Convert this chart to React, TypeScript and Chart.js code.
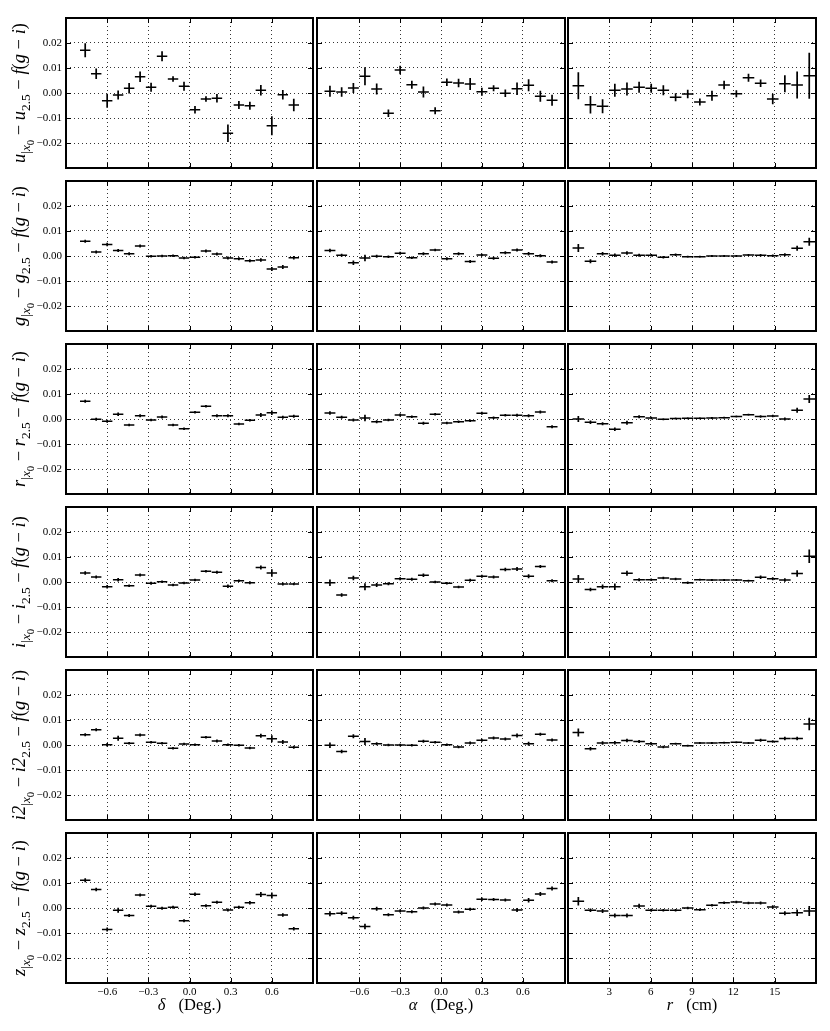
import React, { useEffect, useRef } from "react";
import { Chart, registerables } from "chart.js";

Chart.register(...registerables);

const FONT = "'Liberation Serif', 'DejaVu Serif', serif";

// ---- bin centres ----
const deltaBins = [-0.76, -0.68, -0.6, -0.52, -0.44, -0.36, -0.28, -0.2, -0.12, -0.04, 0.04, 0.12, 0.2, 0.28, 0.36, 0.44, 0.52, 0.6, 0.68, 0.76];
const alphaBins = [-0.815, -0.729, -0.643, -0.558, -0.472, -0.386, -0.3, -0.214, -0.129, -0.043, 0.043, 0.129, 0.214, 0.3, 0.386, 0.472, 0.558, 0.643, 0.729, 0.815];
const rBins = [0.75, 1.63, 2.51, 3.4, 4.28, 5.16, 6.04, 6.92, 7.81, 8.69, 9.57, 10.45, 11.33, 12.22, 13.1, 13.98, 14.86, 15.74, 16.63, 17.51];

// ---- tick labels ----
const yTickValues = [-0.02, -0.01, 0, 0.01, 0.02];
const degTickValues = [-0.6, -0.3, 0, 0.3, 0.6];
const rTickValues = [3, 6, 9, 12, 15];

// ---- u ----
const uDelta = [0.0171, 0.0077, -0.0031, -0.0008, 0.0019, 0.0065, 0.0023, 0.0147, 0.0056, 0.0027, -0.0067, -0.0024, -0.0021, -0.0161, -0.0048, -0.0051, 0.0011, -0.0131, -0.0007, -0.0048];
const uDeltaErr = [0.0028, 0.0021, 0.0028, 0.0018, 0.0021, 0.0021, 0.0018, 0.002, 0.0011, 0.0018, 0.0015, 0.0011, 0.0017, 0.0035, 0.0016, 0.0016, 0.0021, 0.0038, 0.0019, 0.0025];
const uAlpha = [0.0007, 0.0004, 0.002, 0.0067, 0.0016, -0.0081, 0.0092, 0.0033, 0.0004, -0.0071, 0.0043, 0.004, 0.0036, 0.0005, 0.0019, -0.0001, 0.0017, 0.0031, -0.0013, -0.0029];
const uAlphaErr = [0.0022, 0.0019, 0.002, 0.0036, 0.0022, 0.0015, 0.0017, 0.0016, 0.0022, 0.0014, 0.0015, 0.0017, 0.0024, 0.0016, 0.0012, 0.0015, 0.0025, 0.0024, 0.0022, 0.0022];
const uR = [0.0029, -0.0047, -0.0053, 0.0011, 0.0016, 0.0023, 0.0019, 0.0011, -0.0017, -0.0004, -0.0036, -0.0011, 0.0032, -0.0003, 0.0061, 0.0039, -0.0024, 0.0037, 0.0032, 0.0069];
const uRErr = [0.0054, 0.0035, 0.0028, 0.0026, 0.0026, 0.0022, 0.0018, 0.002, 0.0016, 0.0017, 0.0014, 0.002, 0.0017, 0.0014, 0.0016, 0.0015, 0.0021, 0.0034, 0.0054, 0.0092];

// ---- g ----
const gDelta = [0.0059, 0.0016, 0.0046, 0.0022, 0.0009, 0.004, -0.0001, 0.0, 0.0001, -0.0008, -0.0005, 0.002, 0.0008, -0.0008, -0.0011, -0.0019, -0.0016, -0.0052, -0.0044, -0.0007];
const gDeltaErr = [0.0006, 0.0006, 0.0007, 0.0006, 0.0006, 0.0006, 0.0005, 0.0005, 0.0005, 0.0005, 0.0005, 0.0006, 0.0006, 0.0006, 0.0006, 0.0006, 0.0007, 0.0008, 0.0008, 0.0007];
const gAlpha = [0.0022, 0.0003, -0.0027, -0.0008, -0.0001, -0.0003, 0.0011, -0.0007, 0.0009, 0.0024, -0.0011, 0.0009, -0.0022, 0.0004, -0.0009, 0.0013, 0.0024, 0.0009, 0.0001, -0.0024];
const gAlphaErr = [0.0007, 0.0006, 0.0009, 0.0013, 0.0006, 0.0005, 0.0006, 0.0005, 0.0006, 0.0005, 0.0006, 0.0006, 0.0006, 0.0005, 0.0006, 0.0006, 0.0006, 0.0007, 0.0006, 0.0006];
const gR = [0.0032, -0.0021, 0.0009, 0.0003, 0.0012, 0.0003, 0.0003, -0.0005, 0.0005, -0.0003, -0.0003, 0.0, 0.0, 0.0, 0.0004, 0.0003, 0.0001, 0.0005, 0.0031, 0.0057];
const gRErr = [0.0016, 0.0008, 0.0007, 0.0007, 0.0007, 0.0006, 0.0005, 0.0005, 0.0005, 0.0004, 0.0004, 0.0004, 0.0004, 0.0004, 0.0004, 0.0005, 0.0005, 0.0006, 0.001, 0.0016];

// ---- r ----
const rDelta = [0.0071, -0.0001, -0.0009, 0.0019, -0.0024, 0.0013, -0.0004, 0.0008, -0.0024, -0.0039, 0.0027, 0.0051, 0.0013, 0.0013, -0.002, -0.0005, 0.0016, 0.0025, 0.0007, 0.0011];
const rDeltaErr = [0.0006, 0.0006, 0.0006, 0.0007, 0.0005, 0.0006, 0.0005, 0.0006, 0.0005, 0.0005, 0.0005, 0.0005, 0.0006, 0.0006, 0.0005, 0.0005, 0.0008, 0.0009, 0.0006, 0.0006];
const rAlpha = [0.0024, 0.0007, -0.0004, 0.0004, -0.0011, -0.0004, 0.0016, 0.0009, -0.0017, 0.0019, -0.0016, -0.0011, -0.0007, 0.0023, 0.0005, 0.0015, 0.0015, 0.0013, 0.0028, -0.0031];
const rAlphaErr = [0.0007, 0.0006, 0.0006, 0.0013, 0.0006, 0.0005, 0.0006, 0.0005, 0.0006, 0.0005, 0.0005, 0.0005, 0.0005, 0.0006, 0.0005, 0.0005, 0.0006, 0.0006, 0.0006, 0.0006];
const rR = [0.0, -0.0013, -0.0019, -0.0041, -0.0015, 0.0009, 0.0004, -0.0001, 0.0002, 0.0003, 0.0003, 0.0004, 0.0005, 0.001, 0.0017, 0.001, 0.0012, 0.0, 0.0035, 0.008];
const rRErr = [0.0012, 0.0007, 0.0006, 0.0007, 0.0008, 0.0006, 0.0005, 0.0004, 0.0004, 0.0004, 0.0004, 0.0004, 0.0004, 0.0004, 0.0004, 0.0005, 0.0005, 0.0006, 0.001, 0.0016];

// ---- i ----
const iDelta = [0.0036, 0.002, -0.0019, 0.0009, -0.0015, 0.0028, -0.0005, 0.0001, -0.0012, -0.0004, 0.0008, 0.0043, 0.0039, -0.0017, 0.0005, -0.0003, 0.0058, 0.0036, -0.0008, -0.0008];
const iDeltaErr = [0.0007, 0.0006, 0.0007, 0.0007, 0.0005, 0.0006, 0.0006, 0.0005, 0.0005, 0.0005, 0.0005, 0.0005, 0.0006, 0.0007, 0.0005, 0.0006, 0.0008, 0.0015, 0.0006, 0.0005];
const iAlpha = [-0.0003, -0.0052, 0.0016, -0.0019, -0.0012, -0.0007, 0.0013, 0.0011, 0.0027, 0.0, -0.0005, -0.002, 0.0007, 0.0023, 0.002, 0.005, 0.0052, 0.0023, 0.0062, 0.0005];
const iAlphaErr = [0.0013, 0.0007, 0.0009, 0.0014, 0.0008, 0.0006, 0.0006, 0.0006, 0.0007, 0.0005, 0.0005, 0.0005, 0.0006, 0.0006, 0.0006, 0.0007, 0.0008, 0.0008, 0.0006, 0.0006];
const iR = [0.0012, -0.003, -0.0019, -0.0019, 0.0035, 0.0009, 0.0009, 0.0016, 0.0012, -0.0003, 0.0009, 0.0008, 0.0008, 0.0008, 0.0005, 0.0019, 0.0013, 0.0008, 0.0034, 0.0103];
const iRErr = [0.0016, 0.0007, 0.0009, 0.0013, 0.001, 0.0006, 0.0005, 0.0005, 0.0005, 0.0005, 0.0004, 0.0004, 0.0004, 0.0004, 0.0004, 0.0007, 0.0006, 0.0007, 0.0013, 0.0027];

// ---- i2 ----
const i2Delta = [0.0041, 0.0061, 0.0001, 0.0027, 0.0007, 0.004, 0.0011, 0.0007, -0.0013, 0.0004, 0.0001, 0.0031, 0.0016, 0.0001, -0.0001, -0.0012, 0.0037, 0.0025, 0.0012, -0.0009];
const i2DeltaErr = [0.0006, 0.0006, 0.0007, 0.001, 0.0005, 0.0006, 0.0005, 0.0005, 0.0005, 0.0005, 0.0005, 0.0005, 0.0006, 0.0005, 0.0005, 0.0005, 0.0008, 0.0014, 0.0008, 0.0006];
const i2Alpha = [-0.0001, -0.0026, 0.0035, 0.0014, 0.0005, 0.0, 0.0, -0.0001, 0.0015, 0.0011, 0.0001, -0.0008, 0.0008, 0.0019, 0.0028, 0.0024, 0.0038, 0.0005, 0.0043, 0.002];
const i2AlphaErr = [0.0011, 0.0007, 0.0008, 0.0014, 0.0006, 0.0005, 0.0005, 0.0005, 0.0006, 0.0005, 0.0005, 0.0005, 0.0006, 0.0006, 0.0006, 0.0006, 0.0008, 0.0008, 0.0006, 0.0006];
const i2R = [0.005, -0.0015, 0.0008, 0.0009, 0.0018, 0.0014, 0.0005, -0.0008, 0.0005, -0.0003, 0.0008, 0.0008, 0.0009, 0.0011, 0.0008, 0.0019, 0.0014, 0.0026, 0.0026, 0.0084];
const i2RErr = [0.0016, 0.0007, 0.0007, 0.0007, 0.0007, 0.0006, 0.0006, 0.0005, 0.0004, 0.0004, 0.0004, 0.0004, 0.0004, 0.0004, 0.0004, 0.0006, 0.0005, 0.0007, 0.0007, 0.0025];

// ---- z ----
const zDelta = [0.0111, 0.0074, -0.0086, -0.0009, -0.003, 0.0052, 0.0007, -0.0001, 0.0003, -0.0051, 0.0055, 0.0009, 0.0023, -0.0008, 0.0003, 0.0021, 0.0054, 0.005, -0.0028, -0.0083];
const zDeltaErr = [0.0008, 0.0007, 0.0008, 0.001, 0.0006, 0.0006, 0.0006, 0.0006, 0.0006, 0.0006, 0.0007, 0.0006, 0.0006, 0.0006, 0.0006, 0.0007, 0.001, 0.0012, 0.0007, 0.0007];
const zAlpha = [-0.0023, -0.0021, -0.0039, -0.0074, -0.0003, -0.0027, -0.0012, -0.0015, 0.0, 0.0016, 0.0012, -0.0016, -0.0005, 0.0035, 0.0034, 0.0032, -0.0008, 0.0031, 0.0056, 0.0078];
const zAlphaErr = [0.001, 0.0008, 0.0008, 0.0011, 0.0008, 0.0006, 0.0006, 0.0006, 0.0006, 0.0006, 0.0006, 0.0006, 0.0006, 0.0007, 0.0006, 0.0006, 0.0008, 0.0009, 0.0008, 0.0008];
const zR = [0.0027, -0.0009, -0.0012, -0.003, -0.003, 0.0008, -0.0009, -0.0009, -0.0009, 0.0, -0.0007, 0.0011, 0.0021, 0.0024, 0.002, 0.002, 0.0004, -0.0021, -0.0019, -0.0012];
const zRErr = [0.0017, 0.0007, 0.0008, 0.0008, 0.0008, 0.0009, 0.0006, 0.0005, 0.0005, 0.0005, 0.0005, 0.0005, 0.0005, 0.0005, 0.0005, 0.0006, 0.0007, 0.0008, 0.0013, 0.002];

const bands = ["u", "g", "r", "i", "i2", "z"];
const rowData = [
  [[uDelta, uDeltaErr], [uAlpha, uAlphaErr], [uR, uRErr]],
  [[gDelta, gDeltaErr], [gAlpha, gAlphaErr], [gR, gRErr]],
  [[rDelta, rDeltaErr], [rAlpha, rAlphaErr], [rR, rRErr]],
  [[iDelta, iDeltaErr], [iAlpha, iAlphaErr], [iR, iRErr]],
  [[i2Delta, i2DeltaErr], [i2Alpha, i2AlphaErr], [i2R, i2RErr]],
  [[zDelta, zDeltaErr], [zAlpha, zAlphaErr], [zR, zRErr]],
];

const columns = [
  { bins: deltaBins, half: 0.038, min: -0.9, max: 0.9, ticks: degTickValues, dec: 1 },
  { bins: alphaBins, half: 0.04, min: -0.91, max: 0.91, ticks: degTickValues, dec: 1 },
  { bins: rBins, half: 0.42, min: 0, max: 18, ticks: rTickValues, dec: 0 },
];

// layout (px)
const COL_LEFT = [66, 317, 568];
const COL_W = [247, 248, 248];
const ROW_TOP = [18, 181, 344, 507, 670, 833];
const PH = 150;

const fmt = (v: number, d: number) => (v < -1e-12 ? "\u2212" + Math.abs(v).toFixed(d) : Math.abs(v).toFixed(d));

const framePlugin = {
  id: "frameTicks",
  afterDraw(chart: any) {
    const { ctx, chartArea: a, scales } = chart;
    ctx.save();
    ctx.strokeStyle = "#000";
    ctx.lineWidth = 1;
    const tl = 5;
    ctx.beginPath();
    scales.x.ticks.forEach((t: any) => {
      const px = Math.round(scales.x.getPixelForValue(t.value)) + 0.5;
      ctx.moveTo(px, a.bottom);
      ctx.lineTo(px, a.bottom - tl);
      ctx.moveTo(px, a.top);
      ctx.lineTo(px, a.top + tl);
    });
    scales.y.ticks.forEach((t: any) => {
      const py = Math.round(scales.y.getPixelForValue(t.value)) + 0.5;
      ctx.moveTo(a.left, py);
      ctx.lineTo(a.left + tl, py);
      ctx.moveTo(a.right, py);
      ctx.lineTo(a.right - tl, py);
    });
    ctx.stroke();
    ctx.lineWidth = 2;
    ctx.strokeRect(a.left, a.top, a.right - a.left, a.bottom - a.top);
    ctx.restore();
  },
};

function Panel({ row, col }: { row: number; col: number }) {
  const ref = useRef<HTMLCanvasElement>(null);
  const c = columns[col];
  const [ys, errs] = rowData[row][col];
  const padT = 3;
  const padR = 3;
  const padL = col === 0 ? 62 : 3;
  const padB = row === 5 ? 22 : 3;
  const w = COL_W[col] + padL + padR;
  const h = PH + padT + padB;

  useEffect(() => {
    const pts: any[] = [];
    for (let k = 0; k < c.bins.length; k++) {
      const x = c.bins[k];
      const y = ys[k];
      const e = errs[k];
      pts.push({ x: x - c.half, y }, { x: x + c.half, y }, { x, y: null });
      pts.push({ x, y: y - e }, { x, y: y + e }, { x, y: null });
    }
    const chart = new Chart(ref.current as HTMLCanvasElement, {
      type: "line",
      data: {
        datasets: [
          {
            data: pts,
            borderColor: "#000",
            borderWidth: 1.7,
            pointRadius: 0,
            spanGaps: false,
            tension: 0,
            fill: false,
          } as any,
        ],
      },
      options: {
        animation: false,
        responsive: false,
        events: [],
        layout: {
          padding: { top: padT, right: padR, left: col === 0 ? 0 : padL, bottom: row === 5 ? 0 : padB },
        },
        plugins: { legend: { display: false }, tooltip: { enabled: false } },
        scales: {
          x: {
            type: "linear",
            min: c.min,
            max: c.max,
            afterBuildTicks: (s: any) => {
              s.ticks = c.ticks.map((v) => ({ value: v }));
            },
            afterFit: (s: any) => {
              s.height = row === 5 ? padB : 0;
              s.paddingLeft = 0;
              s.paddingRight = 0;
              s.paddingTop = 0;
              s.paddingBottom = 0;
            },
            grid: { color: "#000", lineWidth: 0.8, drawTicks: false },
            border: { display: false, dash: [1, 3] },
            ticks: {
              display: row === 5,
              padding: 3,
              color: "#000",
              autoSkip: false,
              maxRotation: 0,
              font: { size: 11, family: FONT },
              callback: (v: any) => fmt(Number(v), c.dec),
            },
          },
          y: {
            type: "linear",
            min: -0.03,
            max: 0.03,
            afterBuildTicks: (s: any) => {
              s.ticks = yTickValues.map((v) => ({ value: v }));
            },
            afterFit: (s: any) => {
              s.width = col === 0 ? padL : 0;
              s.paddingLeft = 0;
              s.paddingRight = 0;
              s.paddingTop = 0;
              s.paddingBottom = 0;
            },
            grid: { color: "#000", lineWidth: 0.8, drawTicks: false },
            border: { display: false, dash: [1, 3] },
            ticks: {
              display: col === 0,
              padding: 4,
              color: "#000",
              autoSkip: false,
              font: { size: 11, family: FONT },
              callback: (v: any) => fmt(Number(v), 2),
            },
          },
        } as any,
      },
      plugins: [framePlugin],
    });
    return () => chart.destroy();
  }, []);

  return (
    <canvas
      ref={ref}
      width={w}
      height={h}
      style={{
        position: "absolute",
        left: COL_LEFT[col] - padL,
        top: ROW_TOP[row] - padT,
        width: w,
        height: h,
      }}
    />
  );
}

function YLabel({ row }: { row: number }) {
  const b = bands[row];
  return (
    <div
      style={{
        position: "absolute",
        left: 23,
        top: ROW_TOP[row] + PH / 2,
        transform: "translate(-50%, -50%) rotate(-90deg)",
        whiteSpace: "nowrap",
        fontFamily: FONT,
        fontSize: 18.5,
        lineHeight: 1,
        color: "#000",
      }}
    >
      <i>{b}</i>
      <sub style={{ fontSize: "0.72em" }}>
        |<i>x</i>
        <sub style={{ fontSize: "0.8em" }}>0</sub>
      </sub>
      {" \u2212 "}
      <i>{b}</i>
      <sub style={{ fontSize: "0.72em" }}>2.5</sub>
      {" \u2212 "}
      <i>f</i>(<i>g</i>
      {" \u2212 "}
      <i>i</i>)
    </div>
  );
}

const xLabels = [
  { sym: "\u03b4", unit: "(Deg.)" },
  { sym: "\u03b1", unit: "(Deg.)" },
  { sym: "r", unit: "(cm)" },
];

export default function App() {
  const panels: any[] = [];
  for (let r = 0; r < 6; r++) for (let c = 0; c < 3; c++) panels.push(<Panel key={r + "-" + c} row={r} col={c} />);
  return (
    <div style={{ position: "absolute", left: 0, top: 0, width: 830, height: 1031, background: "#fff" }}>
      {panels}
      {bands.map((_, r) => (
        <YLabel key={"yl" + r} row={r} />
      ))}
      {xLabels.map((l, c) => (
        <div
          key={"xl" + c}
          style={{
            position: "absolute",
            left: COL_LEFT[c] + COL_W[c] / 2,
            top: 1005,
            transform: "translate(-50%, -50%)",
            whiteSpace: "nowrap",
            fontFamily: FONT,
            fontSize: 16.5,
            lineHeight: 1,
            color: "#000",
          }}
        >
          <i>{l.sym}</i>
          <span style={{ marginLeft: 13 }}>{l.unit}</span>
        </div>
      ))}
    </div>
  );
}
